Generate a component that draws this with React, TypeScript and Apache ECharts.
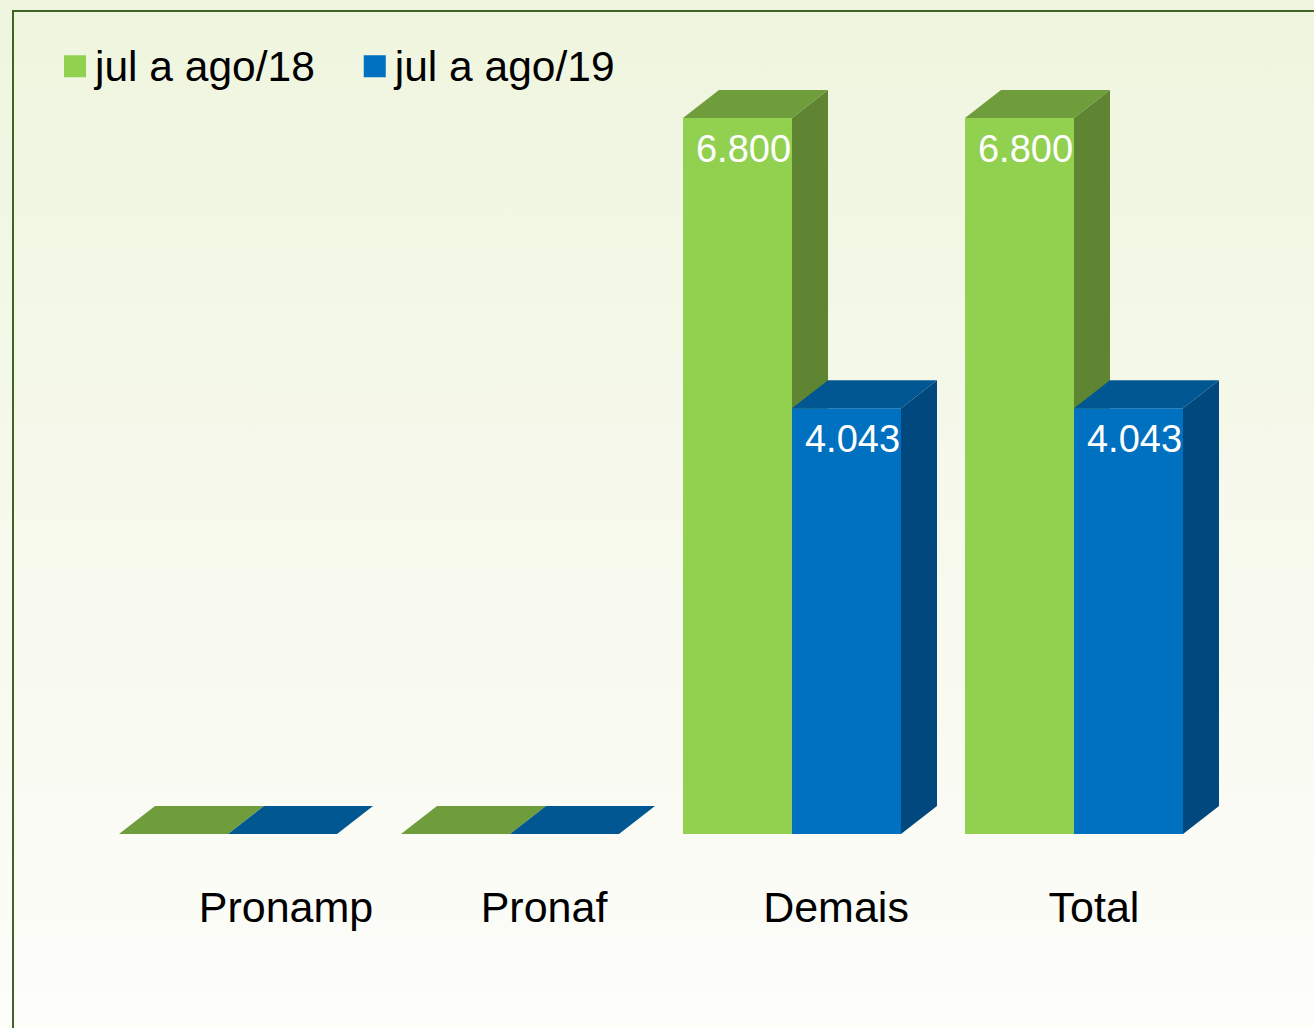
import React, { useEffect, useRef } from "react";
import * as echarts from "echarts";

const categories = ["Pronamp", "Pronaf", "Demais", "Total"];
const seriesNames = ["jul a ago/18", "jul a ago/19"];
const values18 = [0, 0, 6800, 6800];
const values19 = [0, 0, 4043, 4043];

const FONT = "'Liberation Sans', Arial, sans-serif";
const faceColors = [
  { front: "#92d050", top: "#709d3c", side: "#5f8532" },
  { front: "#0070c0", top: "#005791", side: "#00487d" },
];
const labelShift = [58, 34, 44, 20];
const DX = 36;
const DY = 28;
const BAR_RATIO = 109 / 282;

function fmt(v: number) {
  return String(v).replace(/\B(?=(\d{3})+(?!\d))/g, ".");
}

function makeRender(si: number) {
  return (params: any, api: any) => {
    const cat = api.value(0);
    const val = api.value(1);
    const [cx, yTop] = api.coord([cat, val]);
    const [, y0] = api.coord([cat, 0]);
    const band = api.size([1, 0])[0];
    const w = band * BAR_RATIO;
    const x0 = cx - w + si * w;
    const x1 = x0 + w;
    const c = faceColors[si];
    const children: any[] = [];
    if (y0 - yTop > 0.5) {
      children.push({
        type: "rect",
        shape: { x: x0, y: yTop, width: w, height: y0 - yTop },
        style: { fill: c.front },
      });
      children.push({
        type: "polygon",
        shape: { points: [[x1, yTop], [x1 + DX, yTop - DY], [x1 + DX, y0 - DY], [x1, y0]] },
        style: { fill: c.side },
      });
    }
    children.push({
      type: "polygon",
      shape: { points: [[x0, yTop], [x0 + DX, yTop - DY], [x1 + DX, yTop - DY], [x1, yTop]] },
      style: { fill: c.top },
    });
    if (val > 0) {
      children.push({
        type: "text",
        style: {
          text: fmt(val),
          x: x0 + w / 2 + 6,
          y: yTop + 31,
          fill: "#ffffff",
          font: `38px ${FONT}`,
          align: "center",
          verticalAlign: "middle",
        },
      });
    }
    return { type: "group", children };
  };
}

export default function App() {
  const ref = useRef<HTMLDivElement>(null);
  useEffect(() => {
    if (!ref.current) return;
    const chart = echarts.init(ref.current, undefined, { renderer: "svg" });
    const rich: any = {};
    labelShift.forEach((s, i) => {
      rich["c" + i] = {
        fontSize: 43,
        fontFamily: FONT,
        color: "#000",
        padding: [0, 0, 0, 2 * s],
      };
    });
    chart.setOption({
      animation: false,
      backgroundColor: {
        type: "linear",
        x: 0,
        y: 0,
        x2: 0,
        y2: 1,
        colorStops: [
          { offset: 0, color: "#eff5de" },
          { offset: 1, color: "#fdfdfa" },
        ],
      },
      graphic: [
        {
          type: "polyline",
          shape: { points: [[13, 1028], [13, 11], [1314, 11]] },
          style: { stroke: "#3f6424", lineWidth: 2, fill: null },
          silent: true,
        },
      ],
      legend: {
        left: 64,
        top: 44.75,
        padding: 0,
        itemWidth: 22,
        itemHeight: 22,
        itemGap: 49,
        icon: "rect",
        textStyle: {
          fontSize: 42.5,
          fontFamily: FONT,
          color: "#000",
          padding: [0, 0, 0, 4],
        },
        data: seriesNames,
      },
      grid: { left: 87, right: 99, top: 97, bottom: 194 },
      xAxis: {
        type: "category",
        data: categories,
        axisLine: { show: false },
        axisTick: { show: false },
        splitLine: { show: false },
        axisLabel: {
          interval: 0,
          margin: 51,
          formatter: (v: string, i: number) => `{c${i}|${v}}`,
          rich,
        },
      },
      yAxis: {
        type: "value",
        min: 0,
        max: 7000,
        show: false,
        splitLine: { show: false },
      },
      series: [values18, values19].map((vals, si) => ({
        type: "custom",
        name: seriesNames[si],
        color: faceColors[si].front,
        itemStyle: { color: faceColors[si].front },
        renderItem: makeRender(si),
        encode: { x: 0, y: 1 },
        clip: false,
        data: vals.map((v, i) => [i, v]),
      })),
    });
    return () => chart.dispose();
  }, []);
  return (
    <div
      ref={ref}
      style={{ position: "fixed", left: 0, top: 0, width: 1314, height: 1028 }}
    />
  );
}
